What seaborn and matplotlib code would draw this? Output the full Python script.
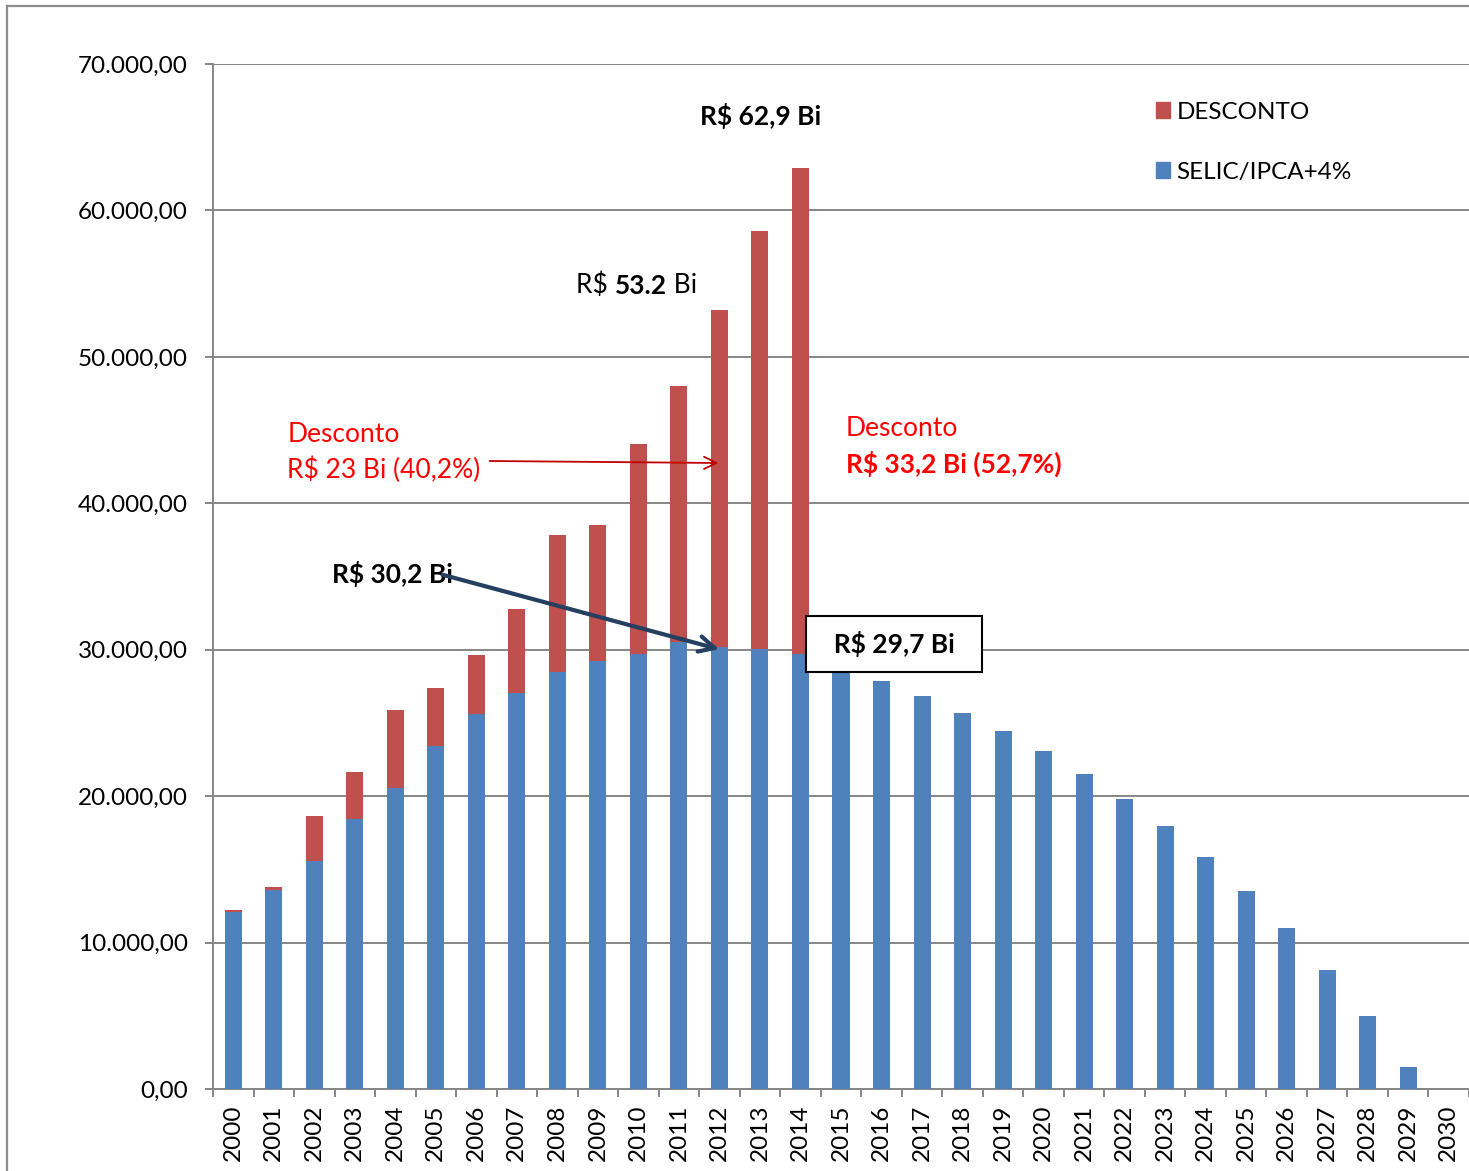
"""Previdencia: SELIC/IPCA+4% x desconto, 2000-2030."""
import numpy as np
import pandas as pd

import seaborn as sea
import matplotlib.pyplot as plt
from matplotlib.patches import Patch
from matplotlib.lines import Line2D

plt.rcParams["font.family"] = ["Lato", "DejaVu Sans"]

# ---- data (R$ milhoes)
years = ["2000", "2001", "2002", "2003", "2004", "2005", "2006", "2007",
         "2008", "2009", "2010", "2011", "2012", "2013", "2014", "2015",
         "2016", "2017", "2018", "2019", "2020", "2021", "2022", "2023",
         "2024", "2025", "2026", "2027", "2028", "2029", "2030"]
selic = [12090, 13590, 15570, 18440, 20560, 23420, 25610, 27040,
         28480, 29230, 29710, 30530, 30200, 30050, 29700, 28410,
         27860, 26840, 25680, 24450, 23080, 21510, 19800, 17960,
         15840, 13520, 11000, 8130, 4990, 1500, 0]
desconto = [130, 205, 3070, 3210, 5320, 3970, 4030, 5740,
            9350, 9290, 14340, 17480, 23000, 28540, 33200, 0,
            0, 0, 0, 0, 0, 0, 0, 0,
            0, 0, 0, 0, 0, 0, 0]
ticks_y = [0, 10000, 20000, 30000, 40000, 50000, 60000, 70000]

df = pd.DataFrame({"ano": years, "selic": selic, "desconto": desconto})
df["total"] = df["selic"] + df["desconto"]

RED = "#C0504D"
BLUE = "#4F81BD"
GRAY = "#868686"
FS = 17.5      # axis text
FA = 19        # annotations


def br_fmt(v, pos=None):
    s = f"{v:,.2f}"
    return s.replace(",", "X").replace(".", ",").replace("X", ".")


W, H = 1469, 1171
fig = plt.figure(figsize=(W / 100, H / 100), dpi=100)
ax = fig.add_axes([213 / W, 1 - 1089 / H, 1 - 213 / W, (1089 - 64) / H])

sea.barplot(data=df, x="ano", y="total", color=RED, saturation=1,
            width=0.42, errorbar=None, linewidth=0, zorder=2, ax=ax)
sea.barplot(data=df, x="ano", y="selic", color=BLUE, saturation=1,
            width=0.42, errorbar=None, linewidth=0, zorder=3, ax=ax)

ax.set_xlim(-0.5, len(years) - 0.5)
ax.set_ylim(0, 70000)
ax.set_yticks(ticks_y)
ax.yaxis.set_major_formatter(plt.FuncFormatter(br_fmt))
ax.yaxis.grid(True, color=GRAY, lw=1.4, zorder=0)
ax.set_axisbelow(True)
ax.set_xlabel("")
ax.set_ylabel("")

# labels centred under bars, tick marks between categories
ax.set_xticks(np.arange(len(years)))
ax.set_xticklabels(years, rotation=90)
ax.set_xticks(np.arange(len(years) + 1) - 0.5, minor=True)
ax.tick_params(axis="x", which="major", length=0, pad=11, labelsize=FS)
ax.tick_params(axis="x", which="minor", length=6, width=1.4,
               direction="out", color=GRAY)
ax.tick_params(axis="y", length=6, width=1.4, color=GRAY, pad=12,
               labelsize=FS)

for side in ["top", "right"]:
    ax.spines[side].set_visible(False)
for side in ["left", "bottom"]:
    ax.spines[side].set_color(GRAY)
    ax.spines[side].set_linewidth(1.4)

# ---- annotations
ax.text(13.02, 66450, "R$ 62,9 Bi", fontsize=FA, fontweight="bold",
        ha="center", va="center", zorder=5)

t1 = ax.text(8.46, 54910, "R$ ", fontsize=FA, ha="left", va="center",
             zorder=5)
t2 = ax.annotate("53.2", xy=(1, 0), xycoords=t1, fontsize=FA,
                 fontweight="bold", ha="left", va="bottom", zorder=5)
ax.annotate(" Bi", xy=(1, 0), xycoords=t2, fontsize=FA, ha="left",
            va="bottom", zorder=5)

ax.text(1.33, 44730, "Desconto", color="red", fontsize=FA, ha="left",
        va="center", zorder=5)
ax.text(1.33, 42270, "R$ 23 Bi (40,2%)", color="red", fontsize=FA,
        ha="left", va="center", zorder=5)
ax.annotate("", xy=(12.04, 42750), xytext=(6.26, 42890),
            arrowprops=dict(arrowstyle="->", color="#C00000", lw=1.3,
                            mutation_scale=22), zorder=5)

ax.text(15.12, 45140, "Desconto", color="red", fontsize=FA, ha="left",
        va="center", zorder=5)
ax.text(15.12, 42680, "R$ 33,2 Bi (52,7%)", color="red", fontsize=FA,
        fontweight="bold", ha="left", va="center", zorder=5)

ax.text(2.44, 35170, "R$ 30,2 Bi", fontsize=FA, fontweight="bold",
        ha="left", va="center", zorder=5)
ax.annotate("", xy=(12.06, 29980), xytext=(5.10, 35170),
            arrowprops=dict(arrowstyle="->", color="#243F60", lw=3,
                            mutation_scale=28), zorder=5)

ax.text(16.31, 30390, "  R$ 29,7 Bi  ", fontsize=FA, fontweight="bold",
        ha="center", va="center", zorder=6,
        bbox=dict(boxstyle="square,pad=0.56", fc="white", ec="black",
                  lw=1.5))

# ---- legend
handles = [Patch(color=RED, label="DESCONTO"),
           Patch(color=BLUE, label="SELIC/IPCA+4%")]
ax.legend(handles=handles, loc="upper left", bbox_to_anchor=(0.741, 0.975),
          frameon=False, fontsize=FS, handlelength=0.6, handleheight=0.6,
          handletextpad=0.25, labelspacing=1.6, borderpad=0)

# outer chart frame (cut at right/bottom like the screenshot)
fig.add_artist(Line2D([7 / W, 7 / W], [0, 1 - 6 / H], color="#8C8C8C",
                      lw=1.6, transform=fig.transFigure))
fig.add_artist(Line2D([7 / W, 1], [1 - 6 / H, 1 - 6 / H], color="#8C8C8C",
                      lw=1.6, transform=fig.transFigure))

plt.savefig("out.png", dpi=100)
plt.close()
